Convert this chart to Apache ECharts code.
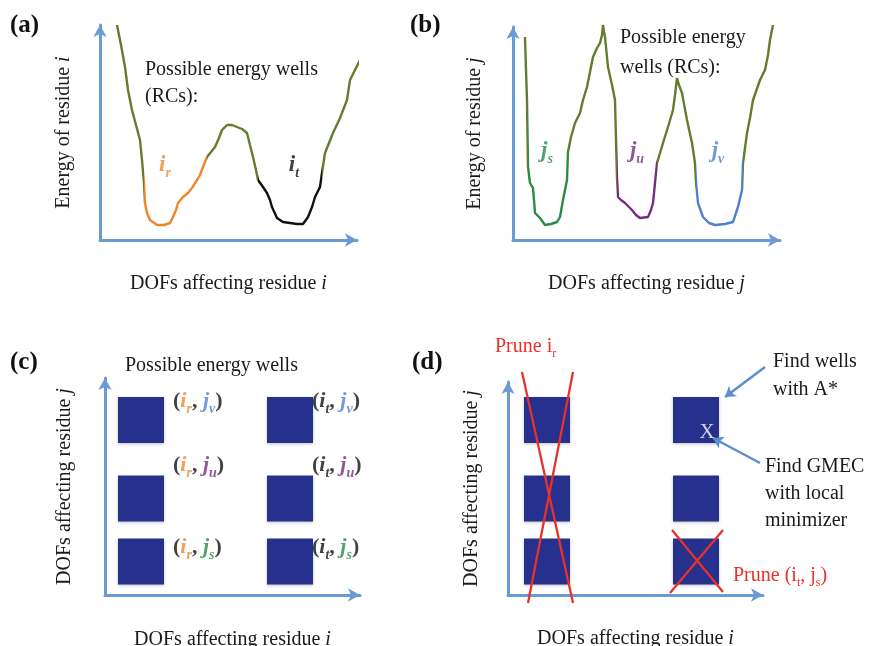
<!DOCTYPE html>
<html><head><meta charset="utf-8">
<script src="https://cdn.jsdelivr.net/npm/echarts@6/dist/echarts.min.js"></script>
<style>html,body{margin:0;padding:0;background:#fff}#c{width:878px;height:646px}</style>
</head><body><div id="c"></div><script>
// ---------- data ----------
// (a) energy of residue i along its DOFs  [dof, energy]
const curveA = [[17,215],[21,195],[25,173],[28,150],[32,130],[36,115],[40,100],[42,80],[44,57],[45,37],[47,27],[50,20],[57,15],[64,15],[70,17],[73,23],[76,30],[78,37],[83,43],[88,47],[92,52],[97,60],[100,65],[103,73],[105,78],[107,83],[111,88],[115,93],[119,102],[122,110],[127,115],[132,115],[137,113],[142,111],[147,107],[150,95],[153,83],[156,70],[158,60],[163,53],[167,47],[170,40],[172,33],[177,22],[183,18],[190,17],[197,16],[203,16],[208,23],[212,33],[215,43],[220,53],[222,67],[225,87],[229,97],[233,107],[240,122],[247,140],[250,160],[255,170],[260,180],[264,192],[267,203],[270,210]];
// wells (RC ranges on DOF axis) of residue i: i_r, i_t
const wellsA = [[44,107],[158,222]];
// (b) energy of residue j
const curveB = [[12,203],[13,170],[14,140],[14.5,105],[15,73],[17,57],[20,52],[21,40],[22,27],[27,22],[32,15],[38,16],[44,18],[47,23],[50,40],[54,60],[55,88],[58,103],[62,117],[67,127],[70,140],[74,153],[80,183],[84,192],[87,197],[89,205],[90,215],[91,208],[92,203],[95,173],[99,155],[102,140],[103,100],[104,62],[105,43],[108,40],[112,37],[116,33],[119,30],[123,25],[127,22],[135,23],[138,30],[140,37],[142,57],[144,77],[150,97],[155,113],[160,130],[162,145],[164,162],[166,155],[169,147],[174,120],[179,97],[182,77],[183,58],[185,37],[190,23],[196,17],[202,15],[212,16],[220,18],[225,33],[229,50],[230,77],[234,107],[237,122],[240,140],[247,160],[252,170],[255,185],[257,200],[260,215]];
// wells of residue j: j_s, j_u, j_v
const wellsB = [[15,55],[104,144],[183,230]];
// well label anchors [dof, energy]
const wellLabelsA = [[65,75],[194,75]];
const wellLabelsB = [[34,89],[124,89],[205,89]];
// (c)/(d) well positions in the 2-D DOF space
const wellIPos = [36,185];        // i_r, i_t
const wellJPos = [33.5,96.5,175]; // j_s, j_u, j_v
const wellSize = 46;
// (d) pruning strokes and arrows
const pruneLines = [[[11,223],[62,-8]],[[62,223],[17,-8]],[[161,65],[212,3]],[[212,65],[159,2]]];
const arrowLines = [[[254,228],[214,198]],[[249,132],[202,157]]];
const gmecPoint = [196,163];

// ---------- styles ----------
const OLIVE='#657b2e', ORANGE='#f0862a', BLACK='#111111', GREEN='#2a8a4a', PURPLE='#7a2a84', BLUE='#4f7fcf', NAVY='#25318c', AXIS='#6b9bd3', RED='#e8302c', TXT='#1a1a1a';
const SERIF='Liberation Serif';
const iColors=[ORANGE,BLACK], jColors=[GREEN,PURPLE,BLUE];
const iSubs=['r','t'], jSubs=['s','u','v'];

function richSet(size){
  const r={p:{fontFamily:SERIF,fontWeight:'bold',fontSize:size,color:BLACK,lineHeight:size+8,verticalAlign:'middle'}};
  const cols={o:ORANGE,k:BLACK,g:GREEN,u:PURPLE,b:BLUE,r:RED};
  for(const k in cols){
    r[k]={fontFamily:SERIF,fontWeight:'bold',fontStyle:'italic',fontSize:size,color:cols[k],lineHeight:size+8,verticalAlign:'middle'};
    r[k+'s']={fontFamily:SERIF,fontWeight:'bold',fontStyle:'italic',fontSize:Math.round(size*0.62),color:cols[k],verticalAlign:'bottom'};
  }
  return r;
}
const iKey=['o','k'], jKey=['g','u','b'];
function wellTxt(key,sub){return '{'+key+'|'+(key==='o'||key==='k'?'i':'j')+'}{'+key+'s|'+sub+'}';}

function pieces(wells,colors){
  const p=[]; let prev=null;
  wells.forEach((w,k)=>{
    p.push(prev===null?{lt:w[0],color:OLIVE}:{gt:prev,lt:w[0],color:OLIVE});
    p.push({gte:w[0],lte:w[1],color:colors[k]});
    prev=w[1];
  });
  p.push({gt:prev,color:OLIVE});
  return p;
}

function axis(dim,gi,min,max,name,gap){
  return {gridIndex:gi,type:'value',min:min,max:max,name:name,nameLocation:'middle',nameGap:gap,
    nameTextStyle:{fontFamily:SERIF,fontSize:20,color:TXT,rich:{i:{fontFamily:SERIF,fontSize:20,fontStyle:'italic',color:TXT}}},
    axisLine:{show:true,onZero:false,symbol:['none','arrow'],symbolSize:[10,12],lineStyle:{color:AXIS,width:3}},
    axisTick:{show:false},axisLabel:{show:false},splitLine:{show:false}};
}

const rich22=richSet(23), rich20=richSet(22);
const series=[];
series.push({type:'line',xAxisIndex:0,yAxisIndex:0,data:curveA,symbol:'none',clip:false,lineStyle:{width:2.4}});
series.push({type:'line',xAxisIndex:1,yAxisIndex:1,data:curveB,symbol:'none',clip:false,lineStyle:{width:2.4}});
series.push({type:'scatter',xAxisIndex:0,yAxisIndex:0,symbolSize:0,clip:false,
  data:wellLabelsA.map((p,k)=>({value:p,label:{formatter:wellTxt(iKey[k],iSubs[k])}})),
  label:{show:true,position:'inside',rich:rich22}});
series.push({type:'scatter',xAxisIndex:1,yAxisIndex:1,symbolSize:0,clip:false,
  data:wellLabelsB.map((p,k)=>({value:p,label:{formatter:wellTxt(jKey[k],jSubs[k])}})),
  label:{show:true,position:'inside',rich:rich22}});

const squares=[];
wellIPos.forEach((x,a)=>wellJPos.forEach((y,b)=>squares.push([x,y,a,b])));
function sqRender(params,api){
  const c=api.coord([api.value(0),api.value(1)]);
  const s=api.size([wellSize,wellSize]);
  return {type:'rect',shape:{x:c[0]-s[0]/2,y:c[1]-s[1]/2,width:s[0],height:s[1]},style:{fill:NAVY,shadowBlur:3,shadowColor:'rgba(0,0,0,0.25)',shadowOffsetY:1}};
}
[2,3].forEach(g=>series.push({type:'custom',xAxisIndex:g,yAxisIndex:g,data:squares,renderItem:sqRender}));
// pair labels in (c)
const pairLabelDx=[32,22], pairLabelDy=[14.5,33.5,19];
series.push({type:'scatter',xAxisIndex:2,yAxisIndex:2,symbolSize:0,clip:false,
  data:squares.map(s=>({value:[s[0]+pairLabelDx[s[2]],s[1]+pairLabelDy[s[3]]],
    label:{formatter:'{p|(}'+wellTxt(iKey[s[2]],iSubs[s[2]])+'{p|, }'+wellTxt(jKey[s[3]],jSubs[s[3]])+'{p|)}'}})),
  label:{show:true,position:'right',distance:0,rich:rich20}});
// (d) pruning + arrows + GMEC marker
series.push({type:'lines',coordinateSystem:'cartesian2d',xAxisIndex:3,yAxisIndex:3,clip:false,
  data:pruneLines.map(l=>({coords:l})),lineStyle:{color:RED,width:2.3,opacity:1}});
series.push({type:'lines',coordinateSystem:'cartesian2d',xAxisIndex:3,yAxisIndex:3,clip:false,
  symbol:['none','arrow'],symbolSize:10,
  data:arrowLines.map(l=>({coords:l})),lineStyle:{color:'#5b8fd0',width:2.5,opacity:1}});
series.push({type:'scatter',xAxisIndex:3,yAxisIndex:3,symbolSize:0,clip:false,data:[gmecPoint],
  label:{show:true,position:'inside',formatter:'X',fontFamily:SERIF,fontSize:21,color:'#ffffff'}});

function txt(left,top,text,opt){
  return {type:'text',left:left,top:top,style:Object.assign({text:text,fontFamily:SERIF,fontSize:20,fill:TXT,lineHeight:28},opt||{})};
}
const redRich={r:{fontFamily:SERIF,fontSize:20,fill:RED,lineHeight:26,verticalAlign:'middle'},rs:{fontFamily:SERIF,fontSize:12,fill:RED,verticalAlign:'bottom'}};

const option={
  animation:false,
  grid:[
    {left:100,top:25,width:257,height:215,outerBoundsMode:'none',containLabel:false},
    {left:513,top:27,width:267,height:213,outerBoundsMode:'none',containLabel:false},
    {left:105,top:378,width:255,height:217,outerBoundsMode:'none',containLabel:false},
    {left:508,top:382,width:255,height:213,outerBoundsMode:'none',containLabel:false}
  ],
  xAxis:[axis('x',0,0,257,'DOFs affecting residue {i|i}',34),axis('x',1,0,267,'DOFs affecting residue {i|j}',34),
         axis('x',2,0,255,'DOFs affecting residue {i|i}',35),axis('x',3,-3,252,'DOFs affecting residue {i|i}',34)],
  yAxis:[axis('y',0,0,215,'Energy of residue {i|i}',26),axis('y',1,0,213,'Energy of residue {i|j}',28),
         axis('y',2,0,217,'DOFs affecting residue {i|j}',30),axis('y',3,0,213,'DOFs affecting residue {i|j}',26)],
  visualMap:[
    {type:'piecewise',show:false,seriesIndex:0,dimension:0,pieces:pieces(wellsA,iColors)},
    {type:'piecewise',show:false,seriesIndex:1,dimension:0,pieces:pieces(wellsB,jColors)}
  ],
  graphic:[
    txt(10,12,'(a)',{fontWeight:'bold',fontSize:25,fill:'#111'}),
    txt(410,12,'(b)',{fontWeight:'bold',fontSize:25,fill:'#111'}),
    txt(10,349,'(c)',{fontWeight:'bold',fontSize:25,fill:'#111'}),
    txt(412,349,'(d)',{fontWeight:'bold',fontSize:25,fill:'#111'}),
    txt(145,56,'Possible energy wells\n(RCs):',{lineHeight:27}),
    txt(620,23,'Possible energy\nwells (RCs):',{lineHeight:30}),
    txt(125,352,'Possible energy wells'),
    {type:'text',left:495,top:337,style:{text:'{r|Prune i}{rs|r}',rich:redRich}},
    txt(773,348,'Find wells\nwith A*'),
    txt(765,453,'Find GMEC\nwith local\nminimizer',{lineHeight:27}),
    {type:'text',left:733,top:566,style:{text:'{r|Prune (i}{rs|t}{r|, j}{rs|s}{r|)}',rich:redRich}}
  ],
  series:series
};
const chart=echarts.init(document.getElementById('c'));
chart.setOption(option);
</script></body></html>
